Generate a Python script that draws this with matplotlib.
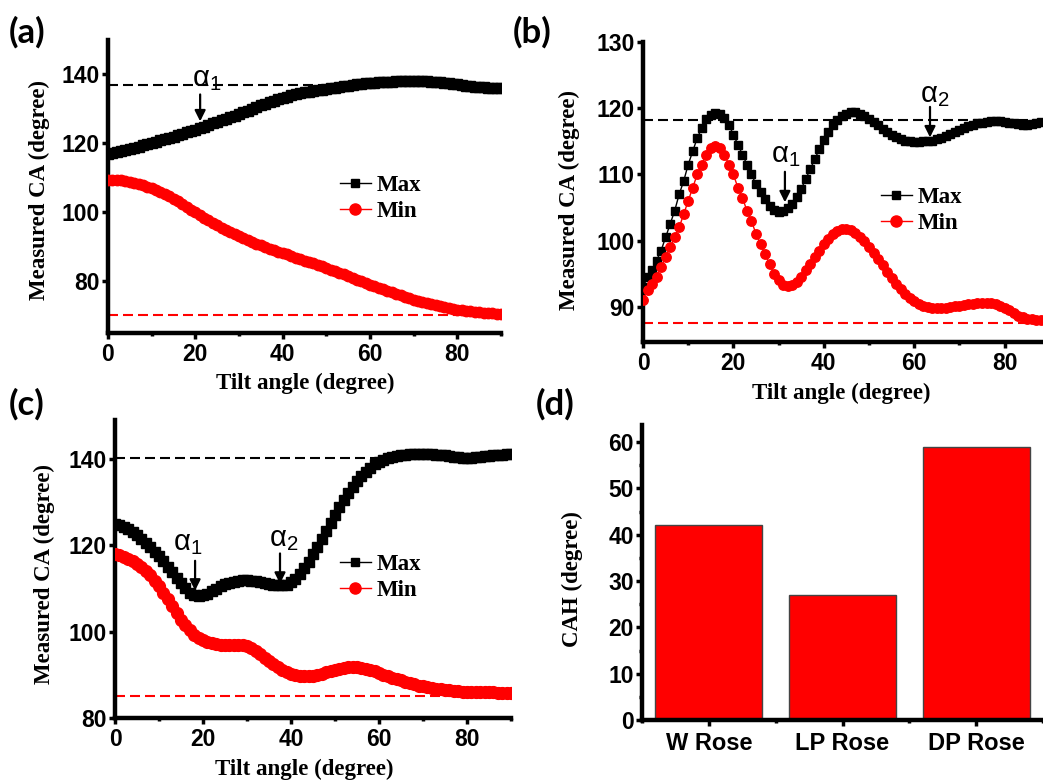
import matplotlib
matplotlib.use('Agg')
import matplotlib.pyplot as plt

# ---------------- data ----------------
tilt_a = list(range(0, 91))
max_a = [116.8, 117.1, 117.4, 117.7, 118.0, 118.3, 118.7, 119.1, 119.4, 119.8,
         120.2, 120.5, 120.9, 121.3, 121.6, 122.0, 122.4, 122.8, 123.2, 123.6,
         124.0, 124.4, 124.9, 125.3, 125.8, 126.2, 126.7, 127.2, 127.6, 128.0,
         128.5, 129.0, 129.5, 130.0, 130.5, 131.0, 131.5, 132.0, 132.4, 132.8,
         133.2, 133.6, 133.9, 134.2, 134.5, 134.8, 135.0, 135.2, 135.4, 135.6,
         135.8, 136.0, 136.2, 136.4, 136.6, 136.8, 136.9, 137.1, 137.2, 137.4,
         137.5, 137.6, 137.7, 137.8, 137.8, 137.9, 138.0, 138.0, 138.1, 138.1,
         138.1, 138.1, 138.0, 138.0, 137.9, 137.8, 137.7, 137.5, 137.4, 137.2,
         137.1, 136.9, 136.8, 136.6, 136.5, 136.4, 136.3, 136.2, 136.2, 136.1,
         136.1]
min_a = [109.5, 109.5, 109.4, 109.3, 109.1, 108.8, 108.5, 108.2, 107.8, 107.4,
         107.0, 106.5, 105.9, 105.3, 104.7, 104.0, 103.2, 102.4, 101.6, 100.8,
         100.0, 99.2, 98.5, 97.7, 97.0, 96.3, 95.6, 94.9, 94.3, 93.6,
         93.0, 92.5, 91.9, 91.4, 90.9, 90.4, 90.0, 89.5, 89.1, 88.6,
         88.2, 87.8, 87.3, 86.9, 86.4, 86.0, 85.6, 85.2, 84.7, 84.3,
         83.9, 83.4, 82.9, 82.5, 82.0, 81.5, 81.0, 80.5, 80.0, 79.5,
         79.0, 78.6, 78.1, 77.7, 77.2, 76.8, 76.4, 75.9, 75.5, 75.1,
         74.7, 74.3, 74.0, 73.6, 73.3, 73.0, 72.7, 72.4, 72.2, 72.0,
         71.8, 71.6, 71.5, 71.3, 71.2, 71.0, 70.9, 70.8, 70.7, 70.6,
         70.5]
ref_max_a = 137.0
ref_min_a = 70.3

tilt_b = list(range(0, 89))
max_b = [93.0, 94.5, 95.5, 97.0, 98.5, 100.5, 102.5, 104.5, 107.0, 109.0,
         111.5, 113.5, 115.5, 117.0, 118.3, 119.0, 119.3, 119.2, 118.5, 117.5,
         116.0, 114.5, 113.0, 111.5, 110.0, 108.5, 107.3, 106.3, 105.3, 104.7,
         104.4, 104.5, 104.9, 105.6, 106.6, 107.8, 109.3, 110.8, 112.3, 113.8,
         115.2, 116.4, 117.4, 118.2, 118.8, 119.2, 119.4, 119.4, 119.2, 118.9,
         118.4, 117.9, 117.4, 116.9, 116.4, 116.0, 115.6, 115.3, 115.1, 115.0,
         114.9, 114.9, 115.0, 115.0, 115.1, 115.3, 115.5, 115.8, 116.1, 116.4,
         116.7, 117.0, 117.3, 117.5, 117.7, 117.8, 117.9, 118.0, 118.0, 118.0,
         117.9, 117.8, 117.7, 117.6, 117.5, 117.5, 117.6, 117.7, 117.9]
min_b = [91.0, 92.5, 93.5, 94.5, 96.0, 97.5, 99.0, 100.5, 102.0, 104.0,
         106.0, 108.0, 110.0, 111.5, 113.0, 114.0, 114.3, 114.0, 113.0, 111.5,
         110.0, 108.0, 106.5, 104.5, 103.0, 101.0, 99.5, 98.0, 96.5, 95.0,
         94.0, 93.3, 93.1, 93.3, 93.8, 94.5, 95.5, 96.5, 97.5, 98.5,
         99.5, 100.3, 101.0, 101.5, 101.8, 101.8, 101.6, 101.2, 100.6, 99.9,
         99.1, 98.2, 97.2, 96.3, 95.3, 94.4, 93.5, 92.7, 92.0, 91.4,
         90.9, 90.5, 90.2, 90.0, 89.9, 89.9, 89.9, 89.9, 90.0, 90.1,
         90.2, 90.3, 90.4, 90.5, 90.6, 90.6, 90.6, 90.6, 90.4, 90.2,
         89.9, 89.5, 89.1, 88.7, 88.4, 88.2, 88.1, 88.0, 88.0]
ref_max_b = 118.2
ref_min_b = 87.6

tilt_c = list(range(0, 91))
max_c = [125.0, 124.7, 124.3, 123.7, 123.0, 122.3, 121.5, 120.5, 119.5, 118.5,
         117.5, 116.3, 115.0, 113.8, 112.5, 111.2, 110.0, 109.0, 108.4, 108.2,
         108.4, 108.8, 109.3, 109.9, 110.5, 111.0, 111.3, 111.6, 111.8, 111.9,
         111.9, 111.8, 111.7, 111.5, 111.2, 111.0, 110.8, 110.7, 110.7, 110.9,
         111.4, 112.2, 113.3, 114.7, 116.2, 117.9, 119.7, 121.5, 123.3, 125.2,
         127.0, 128.8, 130.5, 132.0, 133.5, 134.8, 136.0, 137.0, 138.0, 138.7,
         139.3, 139.8, 140.2, 140.5, 140.7, 140.9, 141.0, 141.1, 141.1, 141.2,
         141.2, 141.2, 141.1, 141.0, 140.9, 140.8, 140.6, 140.5, 140.4, 140.3,
         140.3, 140.3, 140.4, 140.5, 140.6, 140.7, 140.8, 140.9, 141.0, 141.1,
         141.1]
min_c = [118.0, 117.7, 117.3, 116.8, 116.3, 115.7, 115.0, 114.1, 113.0, 111.8,
         110.5, 109.0, 107.5, 105.9, 104.3, 102.8, 101.5, 100.3, 99.3, 98.6,
         98.0, 97.6, 97.3, 97.1, 97.0, 97.0, 97.0, 97.0, 97.0, 96.8,
         96.6, 96.1, 95.5, 94.8, 94.0, 93.2, 92.5, 91.8, 91.2, 90.7,
         90.3, 90.0, 89.8, 89.7, 89.7, 89.8, 90.0, 90.3, 90.6, 90.9,
         91.2, 91.4, 91.6, 91.7, 91.8, 91.7, 91.6, 91.4, 91.1, 90.8,
         90.4, 90.0, 89.7, 89.3, 89.0, 88.7, 88.4, 88.1, 87.8, 87.5,
         87.3, 87.1, 86.9, 86.7, 86.6, 86.5, 86.4, 86.3, 86.2, 86.1,
         86.1, 86.0, 86.0, 86.0, 86.0, 86.0, 86.0, 85.9, 85.9, 85.8,
         85.8]
ref_max_c = 140.1
ref_min_c = 85.1

roses = ['W Rose', 'LP Rose', 'DP Rose']
cah = [42, 27, 59]

# ---------------- style ----------------
plt.rcParams['font.family'] = ['Liberation Sans', 'DejaVu Sans']
plt.rcParams['font.weight'] = 'bold'
plt.rcParams['mathtext.fontset'] = 'custom'
plt.rcParams['mathtext.it'] = 'Open Sans'
plt.rcParams['mathtext.rm'] = 'Open Sans'
plt.rcParams['mathtext.default'] = 'regular'

W, H = 1043, 780
fig = plt.figure(figsize=(W / 100, H / 100), dpi=100)


def axpx(l, r, b, t):
    return fig.add_axes([l / W, 1 - b / H, (r - l) / W, (b - t) / H])


SERIF = ['Liberation Serif', 'DejaVu Serif']


def style(ax):
    for s in ['top', 'right']:
        ax.spines[s].set_visible(False)
    for s in ['left', 'bottom']:
        ax.spines[s].set_linewidth(3.2)
    ax.tick_params(direction='out', length=4, width=2.5, labelsize=16.5, pad=2)
    ax.tick_params(axis='x', pad=3)
    ax.tick_params(which='minor', direction='out', length=2.5, width=2.5)


def curves(ax, x, ymax, ymin, rmax, rmin, ms_sq, ms_ci, lw):
    ax.axhline(rmax, color='black', lw=1.5, ls=(0, (4.8, 2.4)), zorder=1)
    ax.axhline(rmin, color='red', lw=1.5, ls=(0, (4.8, 2.4)), zorder=1)
    l1, = ax.plot(x, ymax, color='black', marker='s', ms=ms_sq, lw=lw, zorder=3, label='Max')
    l2, = ax.plot(x, ymin, color='red', marker='o', ms=ms_ci, lw=lw, zorder=3, label='Min')
    return l1, l2


def legend(ax, x, y, ms_sq, ms_ci):
    from matplotlib.lines import Line2D
    h = [Line2D([], [], color='black', marker='s', ms=ms_sq, lw=1),
         Line2D([], [], color='red', marker='o', ms=ms_ci, lw=1)]
    ax.legend(handles=h, labels=['Max', 'Min'], loc='upper left', bbox_to_anchor=(x / W, 1 - y / H),
              bbox_transform=fig.transFigure, frameon=False, borderpad=0, borderaxespad=0,
              handlelength=1.35, handletextpad=0.25, labelspacing=0.2,
              prop={'family': SERIF, 'weight': 'bold', 'size': 16.5})


def arrow(ax, x, y0, y1, label, tx, ty):
    ax.annotate('', xy=(x, y1), xytext=(x, y0),
                arrowprops=dict(arrowstyle='-|>', color='black', lw=1.6, mutation_scale=16,
                                shrinkA=0, shrinkB=0), zorder=5)
    ax.text(tx, ty, label, ha='center', va='center', fontsize=21, fontweight='normal', zorder=5)


def labels(ax, lx, ly, bx, by):
    ax.set_xlabel('Tilt angle (degree)', family=SERIF, fontsize=16.5, fontweight='bold')
    ax.set_ylabel('Measured CA (degree)', family=SERIF, fontsize=16.5, fontweight='bold')
    ax.yaxis.set_label_coords(lx, ly)
    ax.xaxis.set_label_coords(bx, by)


# (a)
axa = axpx(108, 501, 333, 40)
style(axa)
curves(axa, tilt_a, max_a, min_a, ref_max_a, ref_min_a, 6.5, 7.5, 2.5)
axa.set_xlim(0, 90)
axa.set_ylim(65, 150)
axa.set_xticks([0, 20, 40, 60, 80])
axa.set_xticks([10, 30, 50, 70, 90], minor=True)
axa.set_yticks([80, 100, 120, 140])
labels(axa, -0.148, 0.488, 0.501, -0.135)
legend(axa, 340, 175, 6, 8)
arrow(axa, 21.1, 134.2, 126.4, r'$\alpha_1$', 22.5, 138.8)

# (b)
axb = axpx(643, 1043, 342, 42)
style(axb)
curves(axb, tilt_b, max_b, min_b, ref_max_b, ref_min_b, 5.2, 6.8, 1)
axb.set_xlim(0, 88.5)
axb.set_ylim(84.7, 130)
axb.set_xticks([0, 20, 40, 60, 80])
axb.set_xticks([10, 30, 50, 70], minor=True)
axb.set_yticks([90, 100, 110, 120, 130])
labels(axb, -0.1575, 0.473, 0.495, -0.137)
legend(axb, 881, 187, 6, 8)
arrow(axb, 31.4, 110.4, 105.8, r'$\alpha_1$', 31.6, 113.0)
arrow(axb, 63.5, 120.2, 115.6, r'$\alpha_2$', 64.6, 122.0)

# (c)
axc = axpx(115, 511, 718, 420)
style(axc)
curves(axc, tilt_c, max_c, min_c, ref_max_c, ref_min_c, 7, 8.5, 2.5)
axc.set_xlim(0, 90)
axc.set_ylim(80, 149)
axc.set_xticks([0, 20, 40, 60, 80])
axc.set_xticks([10, 30, 50, 70, 90], minor=True)
axc.set_yticks([80, 100, 120, 140])
labels(axc, -0.1515, 0.483, 0.477, -0.138)
legend(axc, 340, 554, 6, 8)
arrow(axc, 18.2, 116.4, 109.5, r'$\alpha_1$', 16.6, 120.6)
arrow(axc, 37.5, 118.1, 111.1, r'$\alpha_2$', 38.4, 121.4)

# (d)
axd = axpx(642, 1043, 720, 425)
style(axd)
pos = [1, 2, 3]
axd.bar(pos, cah, width=0.8, color='#ff0000', edgecolor='#444444', lw=1, zorder=2)
axd.set_xlim(0.5, 3.5)
axd.set_ylim(0, 63.7)
axd.set_xticks(pos)
axd.set_xticklabels(roses)
axd.set_xticks([0.5, 1.5, 2.5, 3.5], minor=True)
axd.set_yticks([0, 10, 20, 30, 40, 50, 60])
axd.set_yticks([5, 15, 25, 35, 45, 55], minor=True)
axd.tick_params(axis='x', pad=5, labelsize=17)
axd.set_ylabel('CAH (degree)', family=SERIF, fontsize=16.5, fontweight='bold')
axd.yaxis.set_label_coords(-0.147, 0.478)

# panel labels
for lab, x, y in [('(a)', 9, 16), ('(b)', 513, 16), ('(c)', 9, 388), ('(d)', 536, 388)]:
    fig.text(x / W, 1 - y / H, lab, fontsize=25, fontweight='bold',
             family=['Lato', 'DejaVu Sans'], va='top', ha='left')

fig.savefig('out.png', dpi=100)
